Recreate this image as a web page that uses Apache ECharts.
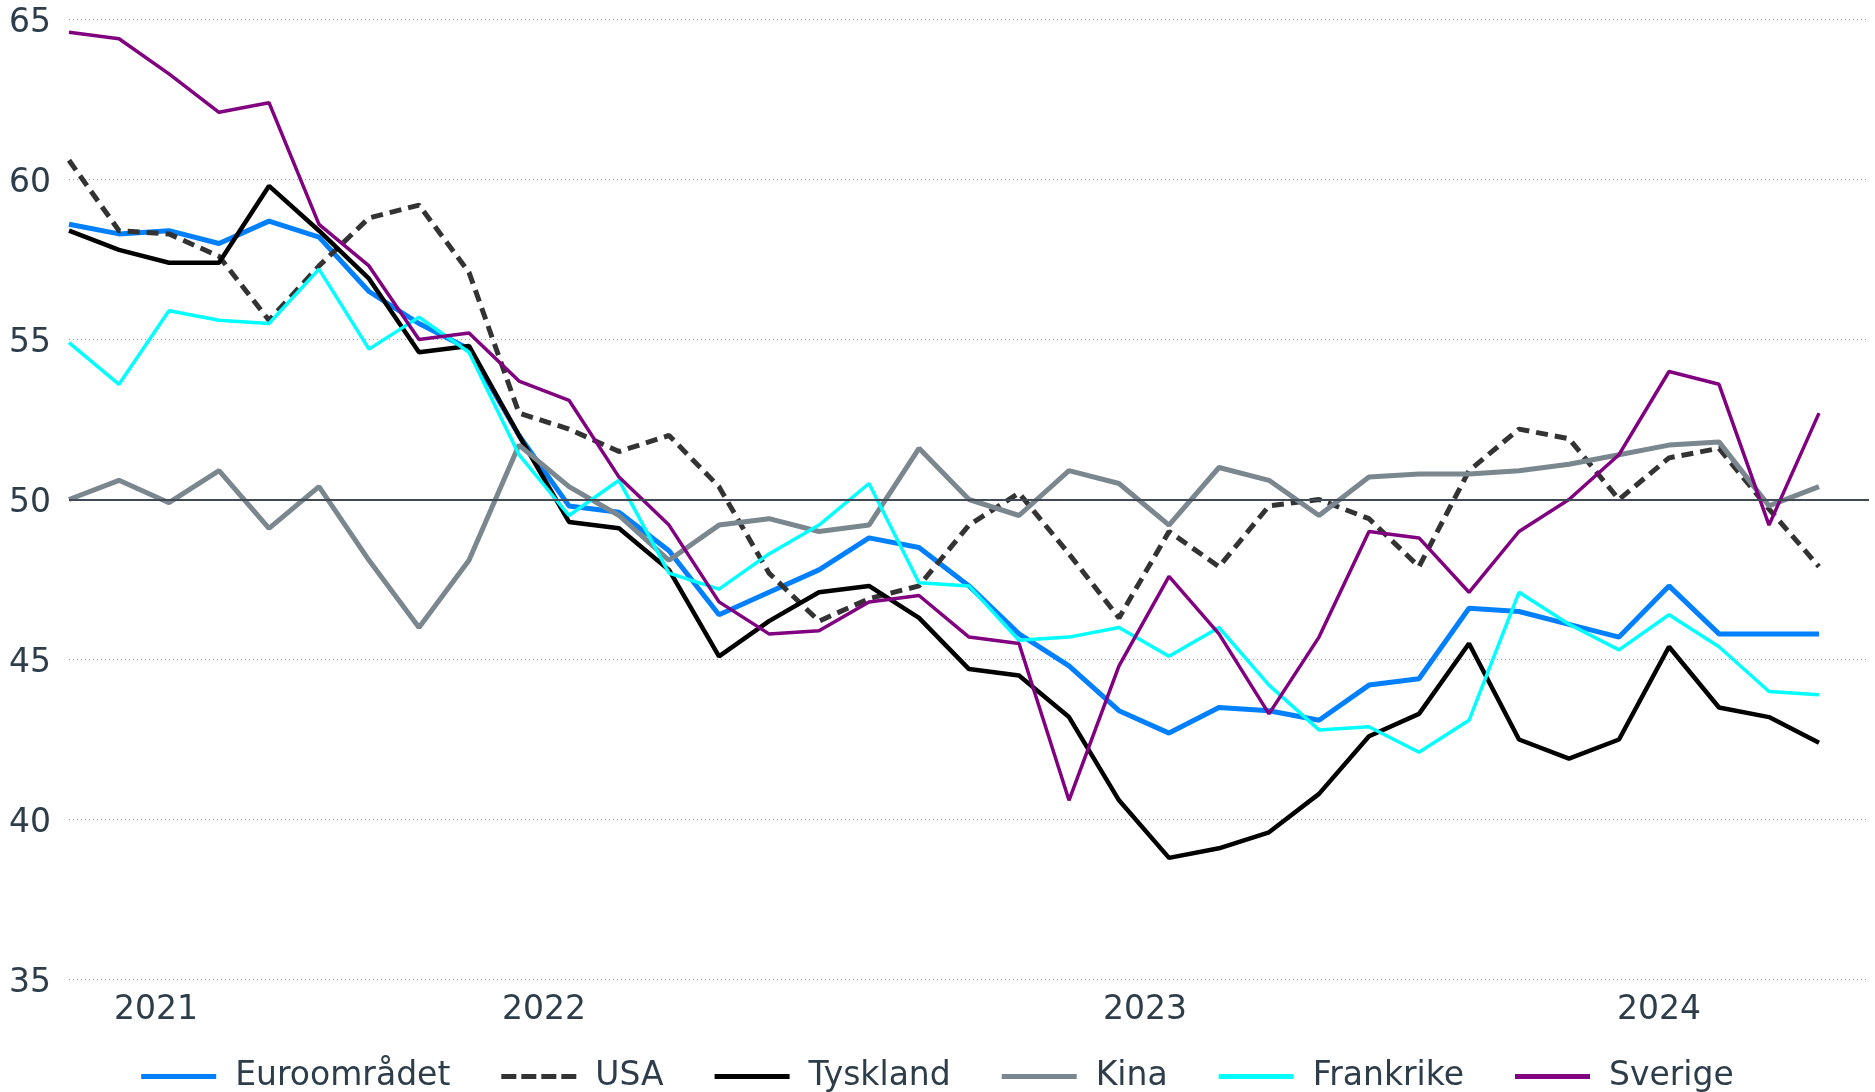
<!DOCTYPE html>
<html>
<head>
<meta charset="utf-8">
<title>PMI</title>
<script src="https://cdn.jsdelivr.net/npm/echarts@6/dist/echarts.min.js"></script>
<style>
    html, body { margin: 0; padding: 0; background: #fff; }
    #main { width: 1875px; height: 1092px; }
</style>
</head>
<body>
<div id="main"></div>
<script>
// månader sep 2021 - aug 2024, plus en tom månad i slutet av axeln
var months = [
    '2021-09', '2021-10', '2021-11', '2021-12',
    '2022-01', '2022-02', '2022-03', '2022-04', '2022-05', '2022-06',
    '2022-07', '2022-08', '2022-09', '2022-10', '2022-11', '2022-12',
    '2023-01', '2023-02', '2023-03', '2023-04', '2023-05', '2023-06',
    '2023-07', '2023-08', '2023-09', '2023-10', '2023-11', '2023-12',
    '2024-01', '2024-02', '2024-03', '2024-04', '2024-05', '2024-06',
    '2024-07', '2024-08', '2024-09'
];
// var årtalen skrivs ut
var yearLabelIndex = [2, 10, 22, 32];

var euroomradet = [58.6, 58.3, 58.4, 58.0, 58.7, 58.2, 56.5, 55.5, 54.7, 52.0, 49.8, 49.6,
    48.4, 46.4, 47.1, 47.8, 48.8, 48.5, 47.3, 45.8, 44.8, 43.4, 42.7, 43.5,
    43.4, 43.1, 44.2, 44.4, 46.6, 46.5, 46.1, 45.7, 47.3, 45.8, 45.8, 45.8];
var usa = [60.6, 58.4, 58.3, 57.6, 55.6, 57.3, 58.8, 59.2, 57.1, 52.7, 52.2, 51.5,
    52.0, 50.4, 47.7, 46.2, 46.9, 47.3, 49.2, 50.2, 48.3, 46.3, 49.0, 47.9,
    49.8, 50.0, 49.4, 47.9, 50.9, 52.2, 51.9, 50.0, 51.3, 51.6, 49.7, 47.9];
var tyskland = [58.4, 57.8, 57.4, 57.4, 59.8, 58.4, 56.9, 54.6, 54.8, 52.0, 49.3, 49.1,
    47.8, 45.1, 46.2, 47.1, 47.3, 46.3, 44.7, 44.5, 43.2, 40.6, 38.8, 39.1,
    39.6, 40.8, 42.6, 43.3, 45.5, 42.5, 41.9, 42.5, 45.4, 43.5, 43.2, 42.4];
var kina = [50.0, 50.6, 49.9, 50.9, 49.1, 50.4, 48.1, 46.0, 48.1, 51.7, 50.4, 49.5,
    48.1, 49.2, 49.4, 49.0, 49.2, 51.6, 50.0, 49.5, 50.9, 50.5, 49.2, 51.0,
    50.6, 49.5, 50.7, 50.8, 50.8, 50.9, 51.1, 51.4, 51.7, 51.8, 49.8, 50.4];
var frankrike = [54.9, 53.6, 55.9, 55.6, 55.5, 57.2, 54.7, 55.7, 54.6, 51.4, 49.5, 50.6,
    47.7, 47.2, 48.3, 49.2, 50.5, 47.4, 47.3, 45.6, 45.7, 46.0, 45.1, 46.0,
    44.2, 42.8, 42.9, 42.1, 43.1, 47.1, 46.1, 45.3, 46.4, 45.4, 44.0, 43.9];
var sverige = [64.6, 64.4, 63.3, 62.1, 62.4, 58.6, 57.3, 55.0, 55.2, 53.7, 53.1, 50.7,
    49.2, 46.8, 45.8, 45.9, 46.8, 47.0, 45.7, 45.5, 40.6, 44.8, 47.6, 45.8,
    43.3, 45.7, 49.0, 48.8, 47.1, 49.0, 50.0, 51.4, 54.0, 53.6, 49.2, 52.7];

var textColor = '#2e3d4a';
var fontName = 'DejaVu Sans';
var fontSize = 33;
// streckad ikon för USA i förklaringen
var dashIcon = 'path://M0,0h15v5h-15zM20,0h15v5h-15zM40,0h15v5h-15zM60,0h15v5h-15z';

// årtalen står mitt i respektive år, flytta dem lite åt vänster
function yearStyle(shift) {
    return {
        fontSize: fontSize,
        fontFamily: fontName,
        color: textColor,
        padding: [0, shift * 2, 0, 0]
    };
}

var option = {
    animation: false,
    backgroundColor: '#ffffff',
    grid: {
        left: 69,
        right: 6,
        top: 19.5,
        bottom: 112.5
    },
    legend: {
        data: [
            { name: 'Euroområdet', icon: 'rect' },
            { name: 'USA', icon: dashIcon },
            { name: 'Tyskland', icon: 'rect' },
            { name: 'Kina', icon: 'rect' },
            { name: 'Frankrike', icon: 'rect' },
            { name: 'Sverige', icon: 'rect' }
        ],
        left: 'center',
        top: 1055,
        itemWidth: 75,
        itemHeight: 5,
        itemGap: 51,
        itemStyle: { borderWidth: 0 },
        textStyle: {
            fontSize: fontSize,
            fontFamily: fontName,
            color: textColor,
            padding: [0, 0, 0, 14]
        }
    },
    xAxis: {
        type: 'category',
        boundaryGap: false,
        data: months,
        axisLine: { show: false },
        axisTick: { show: false },
        splitLine: { show: false },
        axisLabel: {
            margin: 14,
            fontSize: fontSize,
            fontFamily: fontName,
            color: textColor,
            interval: function (index) {
                return yearLabelIndex.indexOf(index) >= 0;
            },
            formatter: function (value) {
                var y = value.substr(0, 4);
                return '{y' + y + '|' + y + '}';
            },
            rich: {
                y2021: yearStyle(13),
                y2022: yearStyle(25),
                y2023: yearStyle(24),
                y2024: yearStyle(10)
            }
        }
    },
    yAxis: {
        type: 'value',
        min: 35,
        max: 65,
        interval: 5,
        axisLine: { show: false },
        axisTick: { show: false },
        axisLabel: {
            margin: 18,
            fontSize: fontSize,
            fontFamily: fontName,
            color: textColor,
            formatter: '{v|{value}}',
            rich: {
                v: {
                    fontSize: fontSize,
                    fontFamily: fontName,
                    color: textColor,
                    padding: [8, 0, 0, 0]
                }
            }
        },
        splitLine: {
            lineStyle: {
                type: [1, 3],
                color: '#9a9a9a',
                width: 1
            }
        }
    },
    series: [
        {
            name: 'Euroområdet',
            type: 'line',
            data: euroomradet,
            symbol: 'none',
            color: '#0080ff',
            lineStyle: { width: 5, color: '#0080ff' },
            markLine: {
                silent: true,
                symbol: 'none',
                label: { show: false },
                lineStyle: { type: 'solid', color: '#3f4a55', width: 2 },
                data: [{ yAxis: 50 }]
            }
        },
        {
            name: 'USA',
            type: 'line',
            data: usa,
            symbol: 'none',
            color: '#333333',
            lineStyle: { width: 5, color: '#333333', type: [12, 7] }
        },
        {
            name: 'Tyskland',
            type: 'line',
            data: tyskland,
            symbol: 'none',
            color: '#000000',
            lineStyle: { width: 4.5, color: '#000000' }
        },
        {
            name: 'Kina',
            type: 'line',
            data: kina,
            symbol: 'none',
            color: '#7b878f',
            lineStyle: { width: 5, color: '#7b878f' }
        },
        {
            name: 'Frankrike',
            type: 'line',
            data: frankrike,
            symbol: 'none',
            color: '#00ffff',
            lineStyle: { width: 3.5, color: '#00ffff' }
        },
        {
            name: 'Sverige',
            type: 'line',
            data: sverige,
            symbol: 'none',
            color: '#800080',
            lineStyle: { width: 3.5, color: '#800080' }
        }
    ]
};

var myChart = echarts.init(document.getElementById('main'));
myChart.setOption(option);
</script>
</body>
</html>
